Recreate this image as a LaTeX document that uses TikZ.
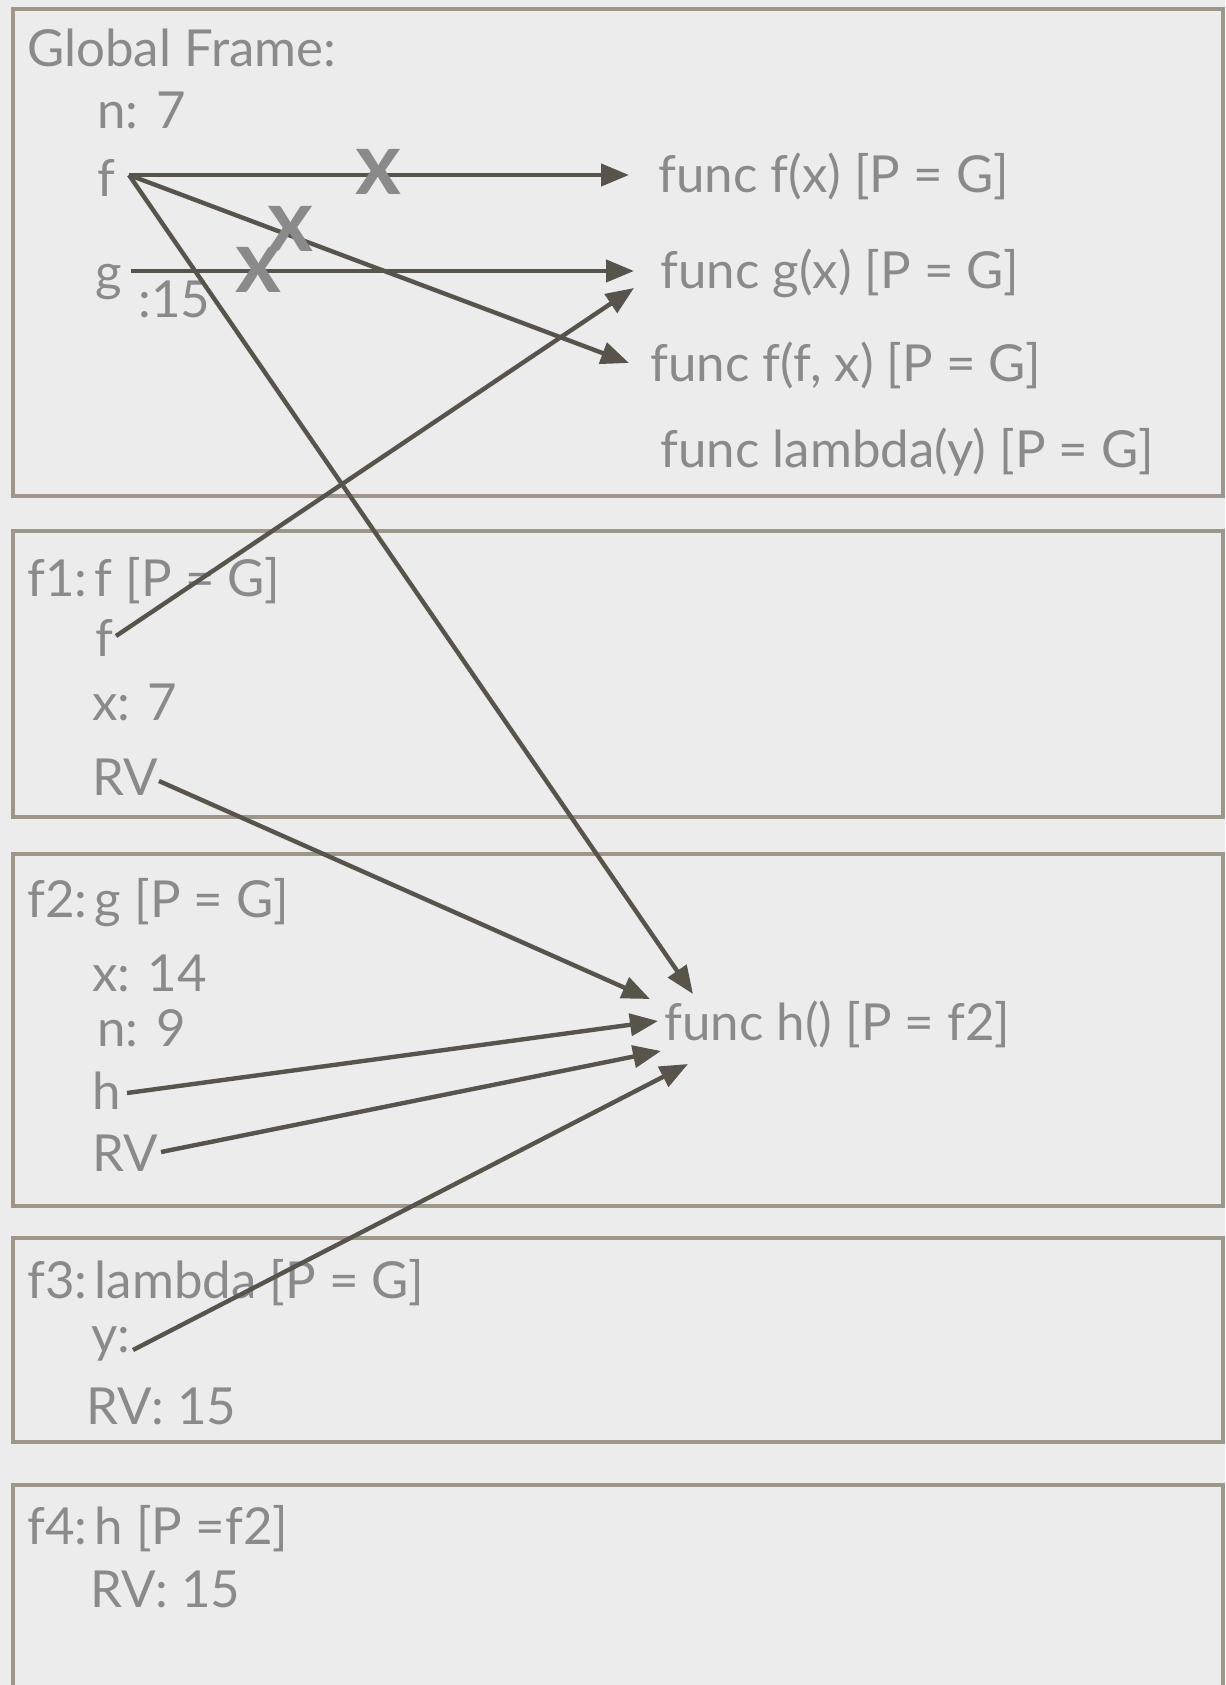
\documentclass[tikz,border=0pt]{standalone}
\usepackage{fontspec}
\setmainfont{Lato}
\usetikzlibrary{arrows.meta}
\definecolor{paper}{RGB}{236,236,236}
\definecolor{txt}{RGB}{138,138,138}
\definecolor{arr}{RGB}{88,83,75}
\definecolor{frm}{RGB}{158,150,138}
\newcommand{\tightsp}{\hspace{-0.2em}}
\begin{document}
\begin{tikzpicture}[x=0.5pt,y=-0.5pt,
 lbl/.style={anchor=base west, inner sep=0pt, text=txt, font=\fontsize{25.5}{28}\selectfont},
 frame/.style={draw=frm, line width=2pt},
 ptr/.style={draw=arr, line width=2.2pt, -{Triangle[length=14pt,width=11pt]}},
 cross/.style={text=txt, font=\fontsize{44}{44}\selectfont\bfseries, inner sep=0pt}]
\fill[paper] (0,0) rectangle (1225,1685);
\useasboundingbox (0,0) rectangle (1225,1685);
% frames
\draw[frame] (13,9) rectangle (1223,496);
\draw[frame] (13,531) rectangle (1223,817);
\draw[frame] (13,854) rectangle (1223,1206);
\draw[frame] (13,1238) rectangle (1223,1442);
\draw[frame] (13,1700) -- (13,1485) -- (1223,1485) -- (1223,1700);
% global frame
\node[lbl] (title) at (27,67) {Global Frame:};
\node[lbl] (gn) at (97,129) {n: 7};
\node[lbl] (gf) at (97,197) {f};
\node[lbl] (gg) at (95,290) {g};
\node[lbl] (g15) at (138,317) {:15};
\node[lbl] (ffx) at (658,193) {func f(x) [P = G]};
\node[lbl] (fgx) at (660,288) {func g(x) [P = G]};
\node[lbl] (fffx) at (650,381) {func f(f, x) [P = G]};
\node[lbl] (flam) at (660,467) {func lambda(y) [P = G]};
% f1
\node[lbl] (f1t) at (27,596) {f1:\tightsp{} f [P = G]};
\node[lbl] (f1f) at (95,656) {f};
\node[lbl] (f1x) at (92,720) {x: 7};
\node[lbl] (f1rv) at (92,795) {RV};
% f2
\node[lbl] (f2t) at (27,917) {f2:\tightsp{} g [P = G]};
\node[lbl] (f2x) at (92,991) {x: 14};
\node[lbl] (f2n) at (97,1046) {n: 9};
\node[lbl] (f2h) at (92,1109) {h};
\node[lbl] (f2rv) at (92,1171) {RV};
\node[lbl] (fh) at (664,1040) {func h() [P = f2]};
% f3
\node[lbl] (f3t) at (27,1298) {f3:\tightsp{} lambda [P = G]};
\node[lbl] (f3y) at (91,1352) {y:};
\node[lbl] (f3rv) at (86,1424) {RV: 15};
% f4
\node[lbl] (f4t) at (27,1544) {f4:\tightsp{} h [P =f2]};
\node[lbl] (f4rv) at (90,1607) {RV: 15};
% connector ends
\coordinate (gfS) at (129,175);
\coordinate (ggS) at (131,271);
\coordinate (f1fS) at (116,636);
\coordinate (f1rvS) at (159,781);
\coordinate (f2hS) at (127,1093);
\coordinate (f2rvS) at (161,1152);
\coordinate (f3yS) at (133,1350);
\coordinate (ffxT) at (629,175);
\coordinate (fffxT) at (629,363);
\coordinate (fgxT) at (634,271);
\coordinate (fgxT2) at (634,288);
\coordinate (fhT0) at (693,994);
\coordinate (fhT1) at (650,999);
\coordinate (fhT2) at (658,1021);
\coordinate (fhT3) at (661,1051);
\coordinate (fhT4) at (688,1064);
% connectors
\draw[ptr] (gfS) -- (ffxT);
\draw[ptr] (gfS) -- (fffxT);
\draw[ptr] (gfS) -- (fhT0);
\draw[ptr] (ggS) -- (fgxT);
\draw[ptr] (f1fS) -- (fgxT2);
\draw[ptr] (f1rvS) -- (fhT1);
\draw[ptr] (f2hS) -- (fhT2);
\draw[ptr] (f2rvS) -- (fhT3);
\draw[ptr] (f3yS) -- (fhT4);
% crosses
\node[cross] (x1) at (378,172) {x};
\node[cross] (x2) at (290,229) {x};
\node[cross] (x3) at (258,270) {x};
\end{tikzpicture}
\end{document}
